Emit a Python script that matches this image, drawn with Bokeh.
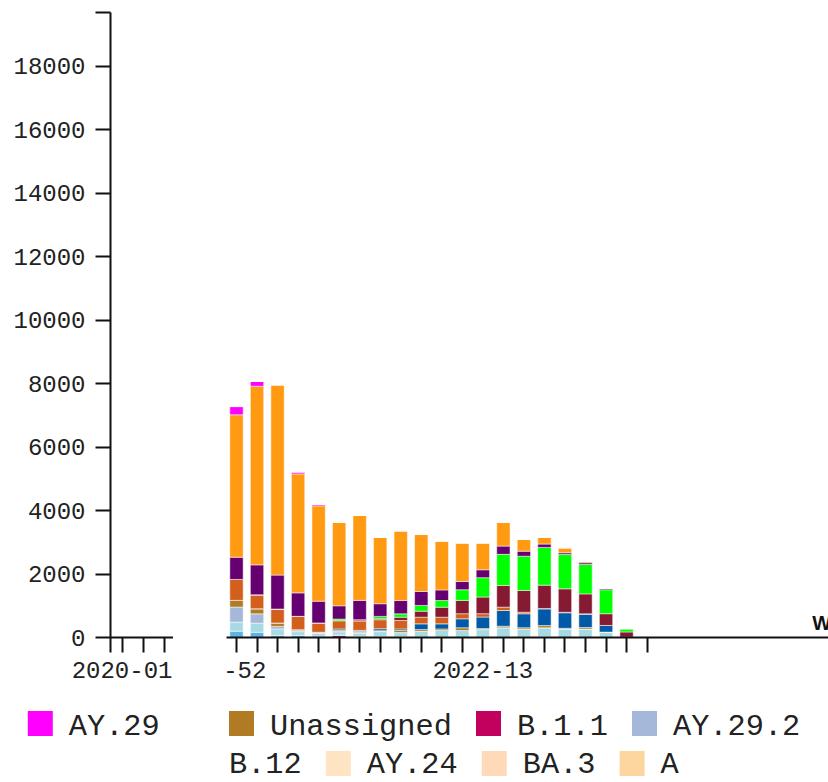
from bokeh.plotting import figure
from bokeh.models import Range1d, FixedTicker, Label, Spacer, ColumnDataSource
from bokeh.layouts import row, column
from bokeh.core.properties import value
from bokeh.embed import file_html
from bokeh.resources import INLINE

# ---------------- data ----------------
left_weeks = ["2020-01", "2020-02", "2020-03"]
weeks = ["2022-01", "2022-02", "2022-03", "2022-04", "2022-05", "2022-06", "2022-07",
         "2022-08", "2022-09", "2022-10", "2022-11", "2022-12", "2022-13", "2022-14",
         "2022-15", "2022-16", "2022-17", "2022-18", "2022-19", "2022-20", "2022-21"]
prev_weeks = ["2021-52"]

# stacked series, bottom to top
b_1_1      = [0, 0, 0, 0, 0, 60, 10, 10, 0, 0, 0, 0, 0, 0, 0, 0, 0, 0, 0, 0, 0]
sky_blue   = [200, 165, 60, 60, 45, 20, 25, 25, 20, 10, 10, 5, 10, 10, 10, 25, 0, 0, 0, 0, 0]
light_cyan = [285, 285, 210, 125, 85, 100, 100, 150, 130, 185, 210, 215, 240, 296, 252, 280, 270, 265, 165, 0, 0]
ay_29_2    = [475, 295, 80, 30, 15, 20, 20, 10, 10, 0, 0, 0, 0, 0, 0, 0, 0, 0, 0, 0, 0]
unassigned = [210, 160, 107, 32, 20, 30, 40, 20, 60, 55, 50, 85, 30, 50, 45, 70, 20, 50, 5, 0, 0]
blue       = [0, 0, 0, 0, 0, 40, 30, 60, 50, 180, 160, 285, 365, 495, 440, 525, 490, 420, 210, 10, 0]
rust       = [660, 440, 440, 420, 295, 260, 295, 285, 265, 210, 210, 160, 105, 105, 50, 15, 15, 10, 0, 0, 0]
dark_red   = [0, 0, 0, 0, 0, 0, 40, 30, 105, 190, 315, 420, 525, 685, 685, 735, 740, 630, 370, 165, 0]
green      = [0, 0, 0, 0, 0, 50, 0, 75, 105, 180, 210, 335, 610, 980, 1080, 1190, 1080, 925, 755, 105, 0]
purple     = [700, 945, 1070, 740, 685, 420, 610, 400, 420, 440, 335, 260, 250, 260, 160, 105, 55, 55, 50, 0, 0]
orange     = [4490, 5630, 6000, 3750, 3005, 2630, 2680, 2090, 2200, 1810, 1545, 1220, 850, 755, 370, 210, 160, 50, 0, 0, 0]
ay_29      = [260, 150, 0, 65, 45, 0, 0, 0, 0, 0, 0, 0, 0, 0, 0, 0, 0, 0, 0, 0, 0]
b_12       = [0] * 21
ay_24      = [0] * 21
ba_3       = [0] * 21
a_lin      = [0] * 21

series_names = ["B.1.1", "sky", "cyan", "AY.29.2", "Unassigned", "blue", "rust",
                "darkred", "green", "purple", "orange", "AY.29", "B.12", "AY.24", "BA.3", "A"]
series_values = [b_1_1, sky_blue, light_cyan, ay_29_2, unassigned, blue, rust,
                 dark_red, green, purple, orange, ay_29, b_12, ay_24, ba_3, a_lin]
series_colors = ["#c2005e", "#5eb3e6", "#a6dbe3", "#a5b8d9", "#b07b22", "#005aa8", "#d2601c",
                 "#861a33", "#00ff00", "#660070", "#ff9a12", "#ff00ff", "#c8c8c8", "#ffe4c4",
                 "#ffdab9", "#fdd59f"]

legend_lead = ["AY.29"]
legend_flow = ["Unassigned", "B.1.1", "AY.29.2", "B.12", "AY.24", "BA.3", "A"]

y_ticks = [0, 2000, 4000, 6000, 8000, 10000, 12000, 14000, 16000, 18000]
y_max = 19700
x_label = "Week"

# ---------------- layout constants ----------------
MONO = "Liberation Mono"
AX = "#111111"
TXT = "#222222"
FIG_H = 690          # height of the chart row
TOP = 12             # frame top
ZERO_PX = 637        # pixel row of value 0
TICK = 15
STANDOFF = 9
BAND = 20.53         # pixels per week on the right panel
AXIS_BAND = TICK + STANDOFF


def style_axis(ax, standoff):
    ax.axis_line_width = 2
    ax.axis_line_color = AX
    ax.major_tick_line_width = 2
    ax.major_tick_line_color = AX
    ax.major_tick_out = TICK
    ax.major_tick_in = 0
    ax.minor_tick_line_color = None
    ax.major_label_text_font = MONO
    ax.major_label_text_font_size = "24px"
    ax.major_label_text_color = TXT
    ax.major_label_standoff = standoff


def clean(p):
    p.xgrid.visible = False
    p.ygrid.visible = False
    p.outline_line_color = None
    p.background_fill_color = "white"
    p.border_fill_color = "white"


def week_label(w):
    return w if int(w[-2:]) % 13 == 0 or w == "2020-01" else ""


y_range = Range1d(0, y_max)

# ---------------- left panel (y axis + early weeks) ----------------
left_start = -0.55
p1 = figure(width=173, height=FIG_H, x_range=Range1d(left_start, len(left_weeks) + left_start),
            y_range=y_range, output_backend="svg", toolbar_location=None,
            min_border_left=110, min_border_right=0, min_border_top=TOP,
            min_border_bottom=FIG_H - ZERO_PX)
clean(p1)
style_axis(p1.xaxis[0], STANDOFF)
style_axis(p1.yaxis[0], 10)
p1.xaxis.ticker = FixedTicker(ticks=[left_start] + list(range(len(left_weeks))))
p1.xaxis.major_label_overrides = {left_start: ""} | {i: week_label(w) for i, w in enumerate(left_weeks)}
p1.yaxis.ticker = FixedTicker(ticks=y_ticks + [y_max])
p1.yaxis.major_label_overrides = {y_max: ""}

# ---------------- right panel (bars) ----------------
n = len(weeks)
W2 = 602
x0 = -0.487
x_range = Range1d(x0, x0 + W2 / BAND)
src = ColumnDataSource({"x": list(range(n)), **{nm: v for nm, v in zip(series_names, series_values)}})
p2 = figure(width=W2, height=ZERO_PX + AXIS_BAND, x_range=x_range, y_range=y_range,
            output_backend="svg", toolbar_location=None, y_axis_location=None,
            min_border_left=0, min_border_right=0, min_border_top=TOP, min_border_bottom=AXIS_BAND)
clean(p2)
p2.vbar_stack(series_names, x="x", width=0.65, source=src, fill_color=series_colors,
              line_color="white", line_alpha=0.5, line_width=1)
style_axis(p2.xaxis[0], 0)
p2.xaxis.ticker = FixedTicker(ticks=list(range(n)))
p2.xaxis.major_label_overrides = {i: "" for i in range(n)}
p2.xaxis.major_label_text_font_size = "1px"
p2.add_layout(Label(x=28.05, y=451, text=x_label, text_align="left", text_baseline="alphabetic",
                    text_font="Liberation Sans", text_font_style="bold", text_font_size="20px",
                    text_color="#111111"))

# tick-label strip under the right panel (shares the x scale; clipped at its left edge)
STRIP_H = FIG_H - (ZERO_PX + AXIS_BAND)
all_weeks = prev_weeks + weeks
all_x = list(range(-len(prev_weeks), n))
lab_x = [x for x, w in zip(all_x, all_weeks) if week_label(w)]
lab_t = [week_label(w) for w in all_weeks if week_label(w)]
strip = figure(width=W2, height=STRIP_H, x_range=x_range, y_range=Range1d(STRIP_H, 0),
               output_backend="svg", toolbar_location=None, x_axis_location=None,
               y_axis_location=None, min_border=0)
clean(strip)
strip.text(x=lab_x, y=[0] * len(lab_x), text=lab_t, text_baseline="top", text_align="center",
           text_font=value(MONO), text_font_size=value("24px"), text_color=TXT)

# ---------------- legend ----------------
LW, LH = 824, 92
CHAR_W = 18.2
SW = 25
SW_Y = [33, 73]
TX_Y = [36, 74]
color_of = dict(zip(series_names, series_colors))

sw_x, sw_y, sw_c, tx_x, tx_y, tx_t = [], [], [], [], [], []
lx = 27.3
for nm in legend_lead:
    sw_x.append(lx + SW / 2); sw_y.append(SW_Y[0]); sw_c.append(color_of[nm])
    tx_x.append(lx + 41); tx_y.append(TX_Y[0]); tx_t.append(nm)
# flowing items: swatch and label may wrap separately
cont_left, cont_right = 228.5, 900
cur, r = cont_left, 0
for nm in legend_flow:
    if cur + SW > cont_right:
        r += 1; cur = cont_left
    sw_x.append(cur + SW / 2); sw_y.append(SW_Y[min(r, 1)]); sw_c.append(color_of[nm])
    cur += 41
    tw = len(nm) * CHAR_W
    if cur + tw > cont_right:
        r += 1; cur = cont_left
    tx_x.append(cur); tx_y.append(TX_Y[min(r, 1)]); tx_t.append(nm)
    cur += tw + 24

pl = figure(width=LW, height=LH, x_range=Range1d(0, LW), y_range=Range1d(LH, 0),
            output_backend="svg", toolbar_location=None, x_axis_location=None, y_axis_location=None,
            min_border=0)
clean(pl)
pl.rect(x=sw_x, y=sw_y, width=SW, height=SW, width_units="screen", height_units="screen",
        fill_color=sw_c, line_color=None)
pl.text(x=tx_x, y=tx_y, text=tx_t, text_font=value(MONO), text_font_size=value("30.3px"),
        text_baseline="middle", text_align="left", text_color=TXT)

layout = column(row(p1, Spacer(width=53, height=FIG_H), column(p2, strip)), pl)
open("out.html", "w").write(file_html(layout, INLINE))
